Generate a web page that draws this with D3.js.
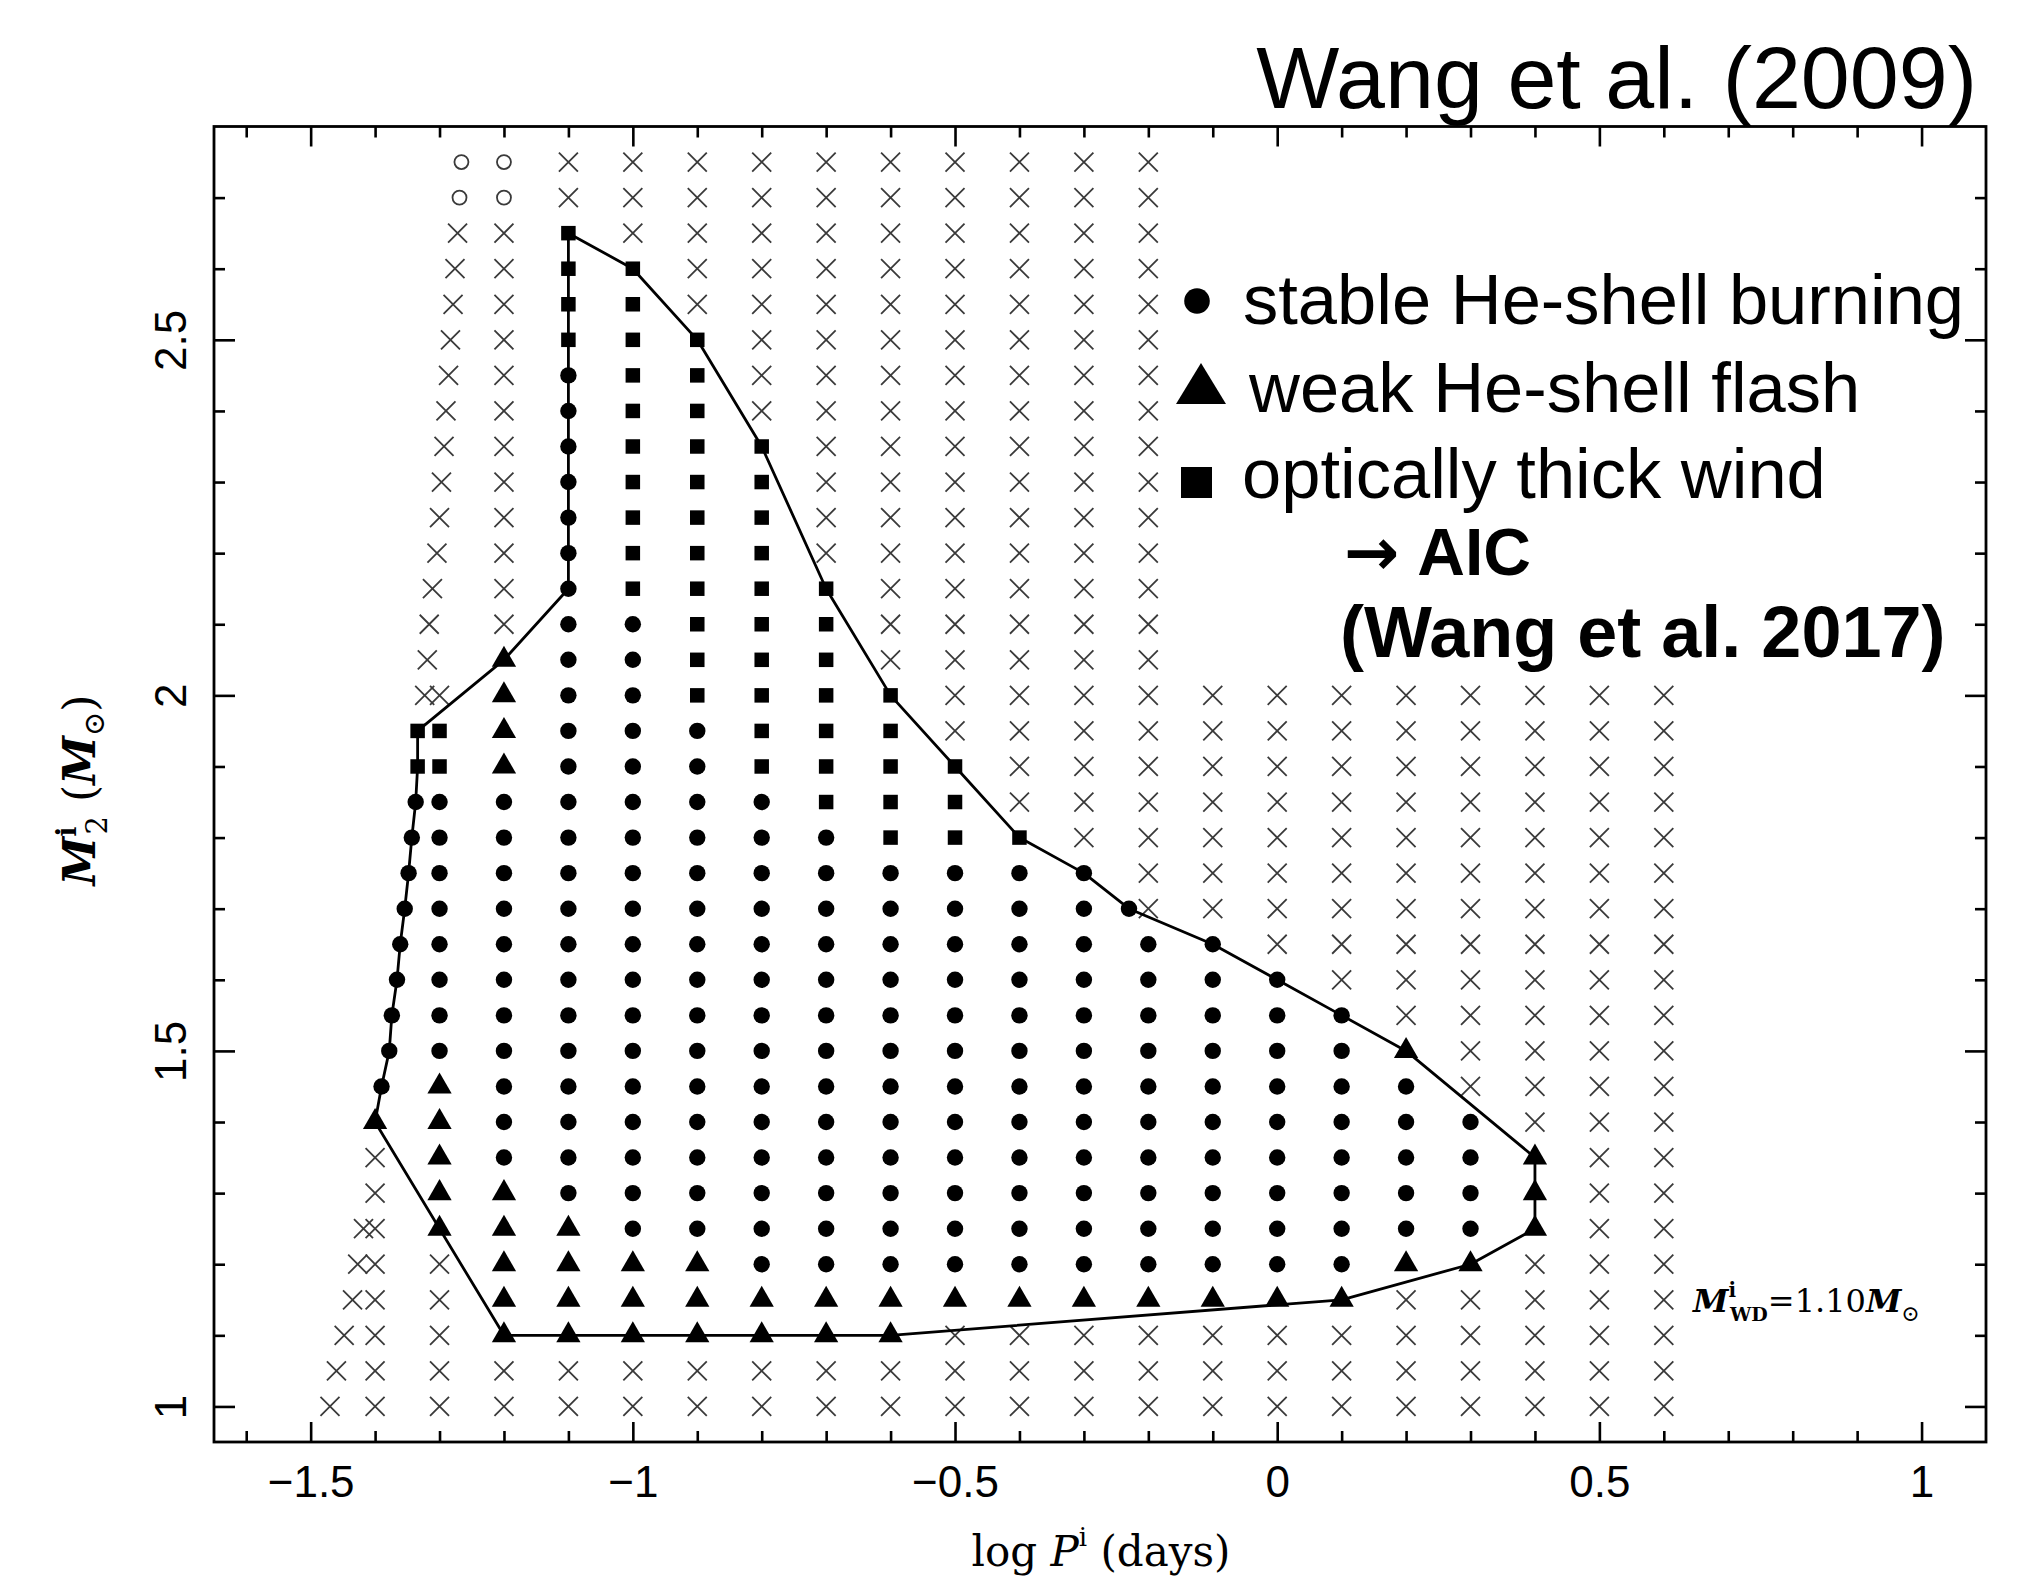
<!DOCTYPE html>
<html><head><meta charset="utf-8">
<script src="https://cdn.jsdelivr.net/npm/d3@7"></script>
<style>html,body{margin:0;padding:0;background:#fff;} svg{display:block;}</style>
</head><body>
<svg id="chart" width="2030" height="1582"></svg>
<script>
// ---------------- DATA ----------------
const xDomain = [-1.65, 1.1];
const yDomain = [0.95, 2.8];
const xMajorTicks = [-1.5, -1, -0.5, 0, 0.5, 1];
const xMinorTicks = [-1.6,-1.4,-1.3,-1.2,-1.1,-0.9,-0.8,-0.7,-0.6,-0.4,-0.3,-0.2,-0.1,0.1,0.2,0.3,0.4,0.6,0.7,0.8,0.9];
const yMajorTicks = [1, 1.5, 2, 2.5];
const yMinorTicks = [1.1,1.2,1.3,1.4,1.6,1.7,1.8,1.9,2.1,2.2,2.3,2.4,2.6,2.7];

// model grid: log P columns and M2 rows
const gridColumns = [-1.4,-1.3,-1.2,-1.1,-1.0,-0.9,-0.8,-0.7,-0.6,-0.5,-0.4,-0.3,-0.2,-0.1,0.0,0.1,0.2,0.3,0.4,0.5,0.6];
const gridRows = [2.75,2.70,2.65,2.60,2.55,2.50,2.45,2.40,2.35,2.30,2.25,2.20,2.15,2.10,2.05,2.00,
                  1.95,1.90,1.85,1.80,1.75,1.70,1.65,1.60,1.55,1.50,1.45,1.40,1.35,1.30,1.25,1.20,
                  1.15,1.10,1.05,1.00];
// codes: x = no (cross), o = open circle, c = stable He-shell burning, t = weak He-shell flash, s = optically thick wind, . = none
const gridCodes = [
  "..oxxxxxxxxxx........", // 2.75
  "..oxxxxxxxxxx........", // 2.70
  "..xsxxxxxxxxx........", // 2.65
  "..xssxxxxxxxx........", // 2.60
  "..xssxxxxxxxx........", // 2.55
  "..xsssxxxxxxx........", // 2.50
  "..xcssxxxxxxx........", // 2.45
  "..xcssxxxxxxx........", // 2.40
  "..xcsssxxxxxx........", // 2.35
  "..xcsssxxxxxx........", // 2.30
  "..xcsssxxxxxx........", // 2.25
  "..xcsssxxxxxx........", // 2.20
  "..xcssssxxxxx........", // 2.15
  "..xccsssxxxxx........", // 2.10
  "..tccsssxxxxx........", // 2.05
  ".xtccssssxxxxxxxxxxxx", // 2.00
  ".stcccsssxxxxxxxxxxxx", // 1.95
  ".stcccssssxxxxxxxxxxx", // 1.90
  ".ccccccsssxxxxxxxxxxx", // 1.85
  ".cccccccsssxxxxxxxxxx", // 1.80
  ".cccccccccccxxxxxxxxx", // 1.75
  ".cccccccccccxxxxxxxxx", // 1.70
  ".cccccccccccccxxxxxxx", // 1.65
  ".ccccccccccccccxxxxxx", // 1.60
  ".cccccccccccccccxxxxx", // 1.55
  ".ccccccccccccccctxxxx", // 1.50
  ".tcccccccccccccccxxxx", // 1.45
  "ttccccccccccccccccxxx", // 1.40
  "xtcccccccccccccccctxx", // 1.35
  "xttccccccccccccccctxx", // 1.30
  "xtttcccccccccccccctxx", // 1.25
  "xxttttccccccccccttxxx", // 1.20
  "xxttttttttttttttxxxxx", // 1.15
  "xxtttttttxxxxxxxxxxxx", // 1.10
  "xxxxxxxxxxxxxxxxxxxxx", // 1.05
  "xxxxxxxxxxxxxxxxxxxxx"  // 1.00
];
// shortest-period models (left edge), one per row
const edgeX = [-1.266,-1.269,-1.272,-1.276,-1.279,-1.283,-1.286,-1.290,-1.293,-1.297,-1.300,-1.304,-1.311,-1.316,-1.319,-1.323,
               -1.334,-1.334,-1.337,-1.343,-1.348,-1.354,-1.361,-1.366,-1.374,-1.378,-1.390,null,null,
               -1.409,-1.418,-1.427,-1.435,-1.448,-1.460,-1.470];
const edgeCodes = "ooxxxxxxxxxxxxxxssccccccccct..xxxxxxx";
const extraX = [-0.23];
const extraY = [1.70];
const extraCodes = "c";

// boundary of the SN Ia / AIC region
const boundaryLine = [[-1.1,2.65],[-1.0,2.60],[-0.9,2.50],[-0.8,2.35],[-0.7,2.15],[-0.6,2.00],[-0.5,1.90],
  [-0.4,1.80],[-0.3,1.75],[-0.23,1.70],[-0.1,1.65],[0.0,1.60],[0.1,1.55],[0.2,1.50],[0.4,1.35],[0.4,1.25],
  [0.3,1.20],[0.1,1.15],[-0.6,1.10],[-1.2,1.10],[-1.4,1.40],[-1.39,1.45],[-1.378,1.50],[-1.374,1.55],
  [-1.366,1.60],[-1.361,1.65],[-1.354,1.70],[-1.348,1.75],[-1.343,1.80],[-1.337,1.85],[-1.334,1.90],
  [-1.334,1.95],[-1.2,2.05],[-1.1,2.15],[-1.1,2.65]];

const legendLabels = ["stable He-shell burning", "weak He-shell flash", "optically thick wind"];

// ---------------- CHART ----------------
const W = 2030, H = 1582;
const plot = {left: 214, right: 1986, top: 126.5, bottom: 1442};
const sansFont = "'Liberation Sans', Arial, Helvetica, sans-serif";
const serifFont = "'DejaVu Serif', 'Liberation Serif', serif";

const svg = d3.select('#chart');
svg.append('rect').attr('width', W).attr('height', H).attr('fill', '#fff');

const x = d3.scaleLinear().domain(xDomain).range([plot.left, plot.right]);
const y = d3.scaleLinear().domain(yDomain).range([plot.bottom, plot.top]);

function styleAxis(g) {
  g.select('.domain').remove();
  g.selectAll('.tick line').attr('stroke', '#000').attr('stroke-width', 2.6);
  g.attr('font-family', sansFont).attr('font-size', 44);
  g.selectAll('text').attr('fill', '#000');
}
const fmt = d3.format('~g');
// bottom
svg.append('g').attr('transform', `translate(0,${plot.bottom})`)
  .call(d3.axisBottom(x).tickValues(xMajorTicks).tickSize(-20).tickSizeOuter(0).tickPadding(24).tickFormat(fmt))
  .call(styleAxis);
svg.append('g').attr('transform', `translate(0,${plot.bottom})`)
  .call(d3.axisBottom(x).tickValues(xMinorTicks).tickSize(-11).tickSizeOuter(0).tickFormat(''))
  .call(styleAxis);
// top
svg.append('g').attr('transform', `translate(0,${plot.top})`)
  .call(d3.axisTop(x).tickValues(xMajorTicks).tickSize(-20).tickSizeOuter(0).tickFormat(''))
  .call(styleAxis);
svg.append('g').attr('transform', `translate(0,${plot.top})`)
  .call(d3.axisTop(x).tickValues(xMinorTicks).tickSize(-11).tickSizeOuter(0).tickFormat(''))
  .call(styleAxis);
// left
const gl = svg.append('g').attr('transform', `translate(${plot.left},0)`)
  .call(d3.axisLeft(y).tickValues(yMajorTicks).tickSize(-21).tickSizeOuter(0).tickFormat(fmt))
  .call(styleAxis);
gl.selectAll('.tick text')
  .attr('x', 0).attr('dy', 0).attr('text-anchor', 'middle')
  .attr('transform', 'translate(-28,0) rotate(-90)');
svg.append('g').attr('transform', `translate(${plot.left},0)`)
  .call(d3.axisLeft(y).tickValues(yMinorTicks).tickSize(-11).tickSizeOuter(0).tickFormat(''))
  .call(styleAxis);
// right
svg.append('g').attr('transform', `translate(${plot.right},0)`)
  .call(d3.axisRight(y).tickValues(yMajorTicks).tickSize(-21).tickSizeOuter(0).tickFormat(''))
  .call(styleAxis);
svg.append('g').attr('transform', `translate(${plot.right},0)`)
  .call(d3.axisRight(y).tickValues(yMinorTicks).tickSize(-11).tickSizeOuter(0).tickFormat(''))
  .call(styleAxis);

// frame
svg.append('rect')
  .attr('x', plot.left).attr('y', plot.top)
  .attr('width', plot.right - plot.left).attr('height', plot.bottom - plot.top)
  .attr('fill', 'none').attr('stroke', '#000').attr('stroke-width', 2.8);

// collect points
const points = [];
gridRows.forEach((r, i) => {
  const codes = gridCodes[i];
  gridColumns.forEach((c, j) => {
    const code = codes[j];
    if (code && code !== '.') points.push({x: c, y: r, code});
  });
  if (edgeX[i] !== null && edgeCodes[i] !== '.') points.push({x: edgeX[i], y: r, code: edgeCodes[i]});
});
extraX.forEach((ex, i) => points.push({x: ex, y: extraY[i], code: extraCodes[i]}));

const crossPath = 'M-9.5,-9.5L9.5,9.5M-9.5,9.5L9.5,-9.5';
const symbolPaths = {
  c: d3.symbol(d3.symbolCircle, Math.PI * 8.2 * 8.2)(),
  s: d3.symbol(d3.symbolSquare, 14.5 * 14.5)(),
  t: d3.symbol(d3.symbolTriangle, 255)()
};

const gPts = svg.append('g');
// crosses
gPts.selectAll('path.cross').data(points.filter(d => d.code === 'x')).join('path')
  .attr('class', 'cross')
  .attr('d', crossPath)
  .attr('transform', d => `translate(${x(d.x)},${y(d.y)})`)
  .attr('fill', 'none').attr('stroke', '#3a3a3a').attr('stroke-width', 1.8);
// open circles
gPts.selectAll('circle.open').data(points.filter(d => d.code === 'o')).join('circle')
  .attr('class', 'open')
  .attr('cx', d => x(d.x)).attr('cy', d => y(d.y)).attr('r', 7)
  .attr('fill', 'none').attr('stroke', '#3a3a3a').attr('stroke-width', 1.8);

// boundary line
svg.append('path')
  .datum(boundaryLine)
  .attr('d', d3.line().x(d => x(d[0])).y(d => y(d[1])))
  .attr('fill', 'none').attr('stroke', '#000').attr('stroke-width', 2.8).attr('stroke-linejoin', 'round');

// filled symbols
svg.append('g').selectAll('path.filled').data(points.filter(d => 'cst'.includes(d.code))).join('path')
  .attr('class', 'filled')
  .attr('d', d => symbolPaths[d.code])
  .attr('transform', d => `translate(${x(d.x)},${y(d.y)})`)
  .attr('fill', '#000');

// ---------------- TEXT ----------------
svg.append('text').attr('x', 1977).attr('y', 108).attr('text-anchor', 'end')
  .attr('font-family', sansFont).attr('font-size', 88).attr('fill', '#000')
  .text('Wang et al. (2009)');

// legend
const lg = svg.append('g').attr('font-family', sansFont).attr('font-size', 70.5).attr('fill', '#000');
lg.append('circle').attr('cx', 1197).attr('cy', 301).attr('r', 12.8).attr('fill', '#000');
lg.append('text').attr('x', 1243).attr('y', 324).text(legendLabels[0]);
lg.append('path').attr('d', 'M0,-20.5L25,20.5L-25,20.5Z').attr('transform', 'translate(1201,383.5)').attr('fill', '#000');
lg.append('text').attr('x', 1249).attr('y', 412).text(legendLabels[1]);
lg.append('rect').attr('x', 1181).attr('y', 467).attr('width', 31).attr('height', 31).attr('fill', '#000');
lg.append('text').attr('x', 1242).attr('y', 498).text(legendLabels[2]);

const aic = svg.append('text').attr('x', 1344).attr('y', 575)
  .attr('font-family', sansFont).attr('font-size', 66).attr('font-weight', 'bold').attr('fill', '#000');
aic.append('tspan').attr('font-family', "'DejaVu Sans', sans-serif").text('→');
aic.append('tspan').attr('dx', 18).text('AIC');
svg.append('text').attr('x', 1340).attr('y', 657)
  .attr('font-family', sansFont).attr('font-size', 72).attr('font-weight', 'bold').attr('fill', '#000')
  .text('(Wang et al. 2017)');

// M_WD annotation
const mwd = svg.append('text').attr('x', 1693).attr('y', 1312)
  .attr('font-family', serifFont).attr('font-size', 32).attr('fill', '#000');
mwd.append('tspan').attr('font-style', 'italic').attr('font-weight', 'bold').text('M');
mwd.append('tspan').attr('font-size', 20).attr('font-weight', 'bold').attr('dy', -15).text('i');
mwd.append('tspan').attr('font-size', 19).attr('font-weight', 'bold').attr('dx', -6).attr('dy', 24).text('WD');
mwd.append('tspan').attr('dy', -9).text('=1.10');
mwd.append('tspan').attr('font-style', 'italic').attr('font-weight', 'bold').text('M');
mwd.append('tspan').attr('font-size', 22).attr('dy', 9).text('⊙');

// x label
const xl = svg.append('text').attr('x', 1101).attr('y', 1566).attr('text-anchor', 'middle')
  .attr('font-family', serifFont).attr('font-size', 42).attr('fill', '#000');
xl.append('tspan').text('log ');
xl.append('tspan').attr('font-style', 'italic').text('P');
xl.append('tspan').attr('font-size', 26).attr('dy', -20).text('i');
xl.append('tspan').attr('dy', 20).text(' (days)');

// y label
const yl = svg.append('text').attr('transform', 'translate(95,790) rotate(-90)').attr('text-anchor', 'middle')
  .attr('font-family', serifFont).attr('font-size', 44).attr('fill', '#000');
yl.append('tspan').attr('font-style', 'italic').attr('font-weight', 'bold').text('M');
yl.append('tspan').attr('font-size', 27).attr('font-weight', 'bold').attr('dy', -19).text('i');
yl.append('tspan').attr('font-size', 29).attr('dx', -8).attr('dy', 31).text('2');
yl.append('tspan').attr('dy', -12).text(' (');
yl.append('tspan').attr('font-style', 'italic').attr('font-weight', 'bold').text('M');
yl.append('tspan').attr('font-size', 29).attr('dy', 9).text('⊙');
yl.append('tspan').attr('dy', -9).text(')');
</script>
</body></html>
